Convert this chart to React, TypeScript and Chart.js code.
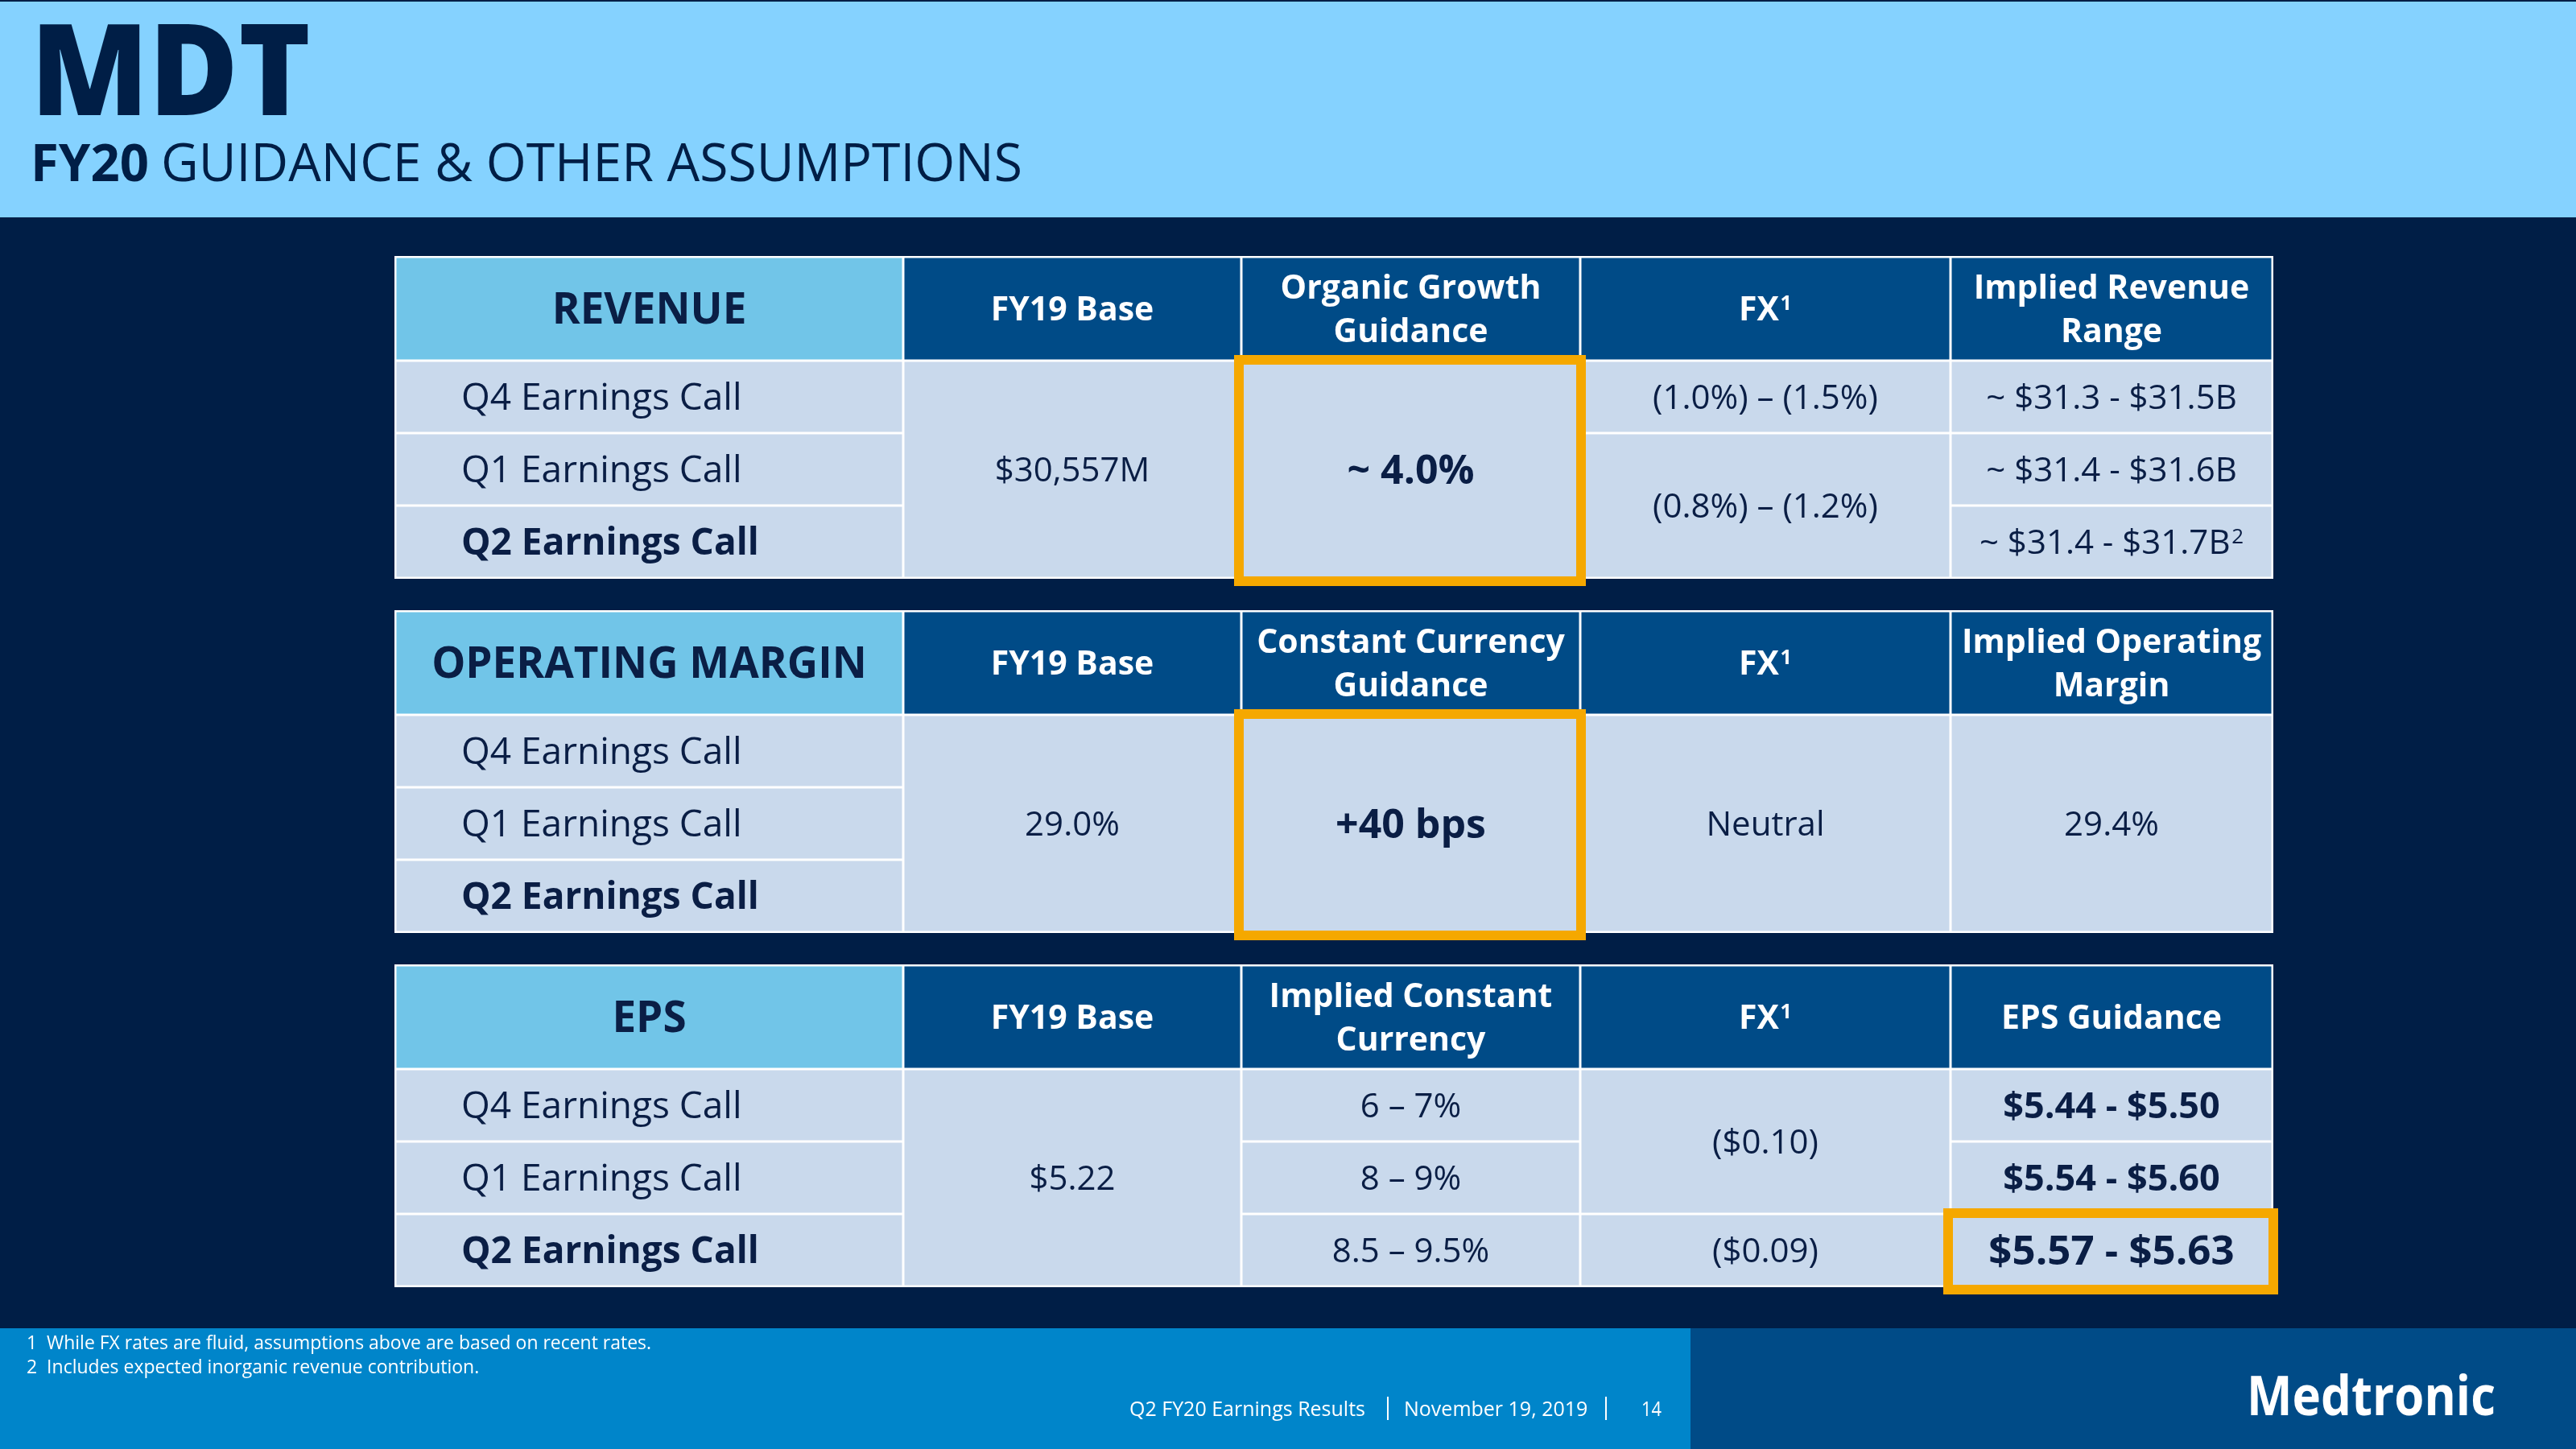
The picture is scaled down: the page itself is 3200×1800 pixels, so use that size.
import { useEffect, useRef } from "react";
import { Chart, registerables } from "chart.js";

Chart.register(...registerables);

// ---------- DATA ----------
const slideTitle = "MDT";
const subtitleBold = "FY20";
const subtitleRest = "GUIDANCE & OTHER ASSUMPTIONS";
const tableTitles = ["REVENUE", "OPERATING MARGIN", "EPS"];
const callLabels = ["Q4 Earnings Call", "Q1 Earnings Call", "Q2 Earnings Call"];
const revenueHeaders = ["FY19 Base", "Organic Growth|Guidance", "FX^1", "Implied Revenue|Range"];
const marginHeaders = ["FY19 Base", "Constant Currency|Guidance", "FX^1", "Implied Operating|Margin"];
const epsHeaders = ["FY19 Base", "Implied Constant|Currency", "FX^1", "EPS Guidance"];
const revenueBase = ["$30,557M"];
const revenueGrowth = ["~ 4.0%"];
const revenueFx = ["(1.0%) \u2013 (1.5%)", "(0.8%) \u2013 (1.2%)"];
const revenueRange = ["~ $31.3 - $31.5B", "~ $31.4 - $31.6B", "~ $31.4 - $31.7B^2"];
const marginBase = ["29.0%"];
const marginGuidance = ["+40 bps"];
const marginFx = ["Neutral"];
const marginImplied = ["29.4%"];
const epsBase = ["$5.22"];
const epsConstant = ["6 \u2013 7%", "8 \u2013 9%", "8.5 \u2013 9.5%"];
const epsFx = ["($0.10)", "($0.09)"];
const epsGuidance = ["$5.44 - $5.50", "$5.54 - $5.60", "$5.57 - $5.63"];
const footnotes = [
  "1  While FX rates are fluid, assumptions above are based on recent rates.",
  "2  Includes expected inorganic revenue contribution.",
];
const footerParts = ["Q2 FY20 Earnings Results", "November 19, 2019", "14"];
const brandName = "Medtronic";

// ---------- LAYOUT / STYLE ----------
const W = 3200;
const H = 1800;
const FONT = '"Open Sans", "Noto Sans", sans-serif';
const C = {
  band: "#85D2FF",
  navy: "#001E46",
  headLight: "#71C5E8",
  headDark: "#004B87",
  body: "#C9D9EC",
  text: "#0A1E45",
  orange: "#F5A800",
  footLeft: "#0085CA",
  footRight: "#004B87",
  white: "#FFFFFF",
};
const colEdges = [491, 1122, 1542, 1963, 2423, 2823];
const tableTops = [319, 759, 1199];
const headH = 129;
const rowH = 90;
const VAL = 42;

type Cell = {
  t: number;
  col: number;
  row: number; // -1 header
  span: number;
  text: string;
  bold?: boolean;
  size?: number;
  color?: string;
  fill?: string;
  align?: "left" | "center";
  box?: boolean;
};

function buildCells(): Cell[] {
  const cells: Cell[] = [];
  const headers = [revenueHeaders, marginHeaders, epsHeaders];
  tableTitles.forEach((title, t) => {
    cells.push({ t, col: 0, row: -1, span: 1, text: title, bold: true, size: 53, color: C.text, fill: C.headLight });
    headers[t].forEach((h, i) => {
      cells.push({ t, col: i + 1, row: -1, span: 1, text: h, bold: true, size: 41, color: C.white, fill: C.headDark });
    });
    callLabels.forEach((lab, r) => {
      cells.push({ t, col: 0, row: r, span: 1, text: lab, bold: r === 2, size: 46, align: "left" });
    });
  });
  // Revenue
  cells.push({ t: 0, col: 1, row: 0, span: 3, text: revenueBase[0] });
  cells.push({ t: 0, col: 2, row: 0, span: 3, text: revenueGrowth[0], bold: true, size: 50, box: true });
  cells.push({ t: 0, col: 3, row: 0, span: 1, text: revenueFx[0] });
  cells.push({ t: 0, col: 3, row: 1, span: 2, text: revenueFx[1] });
  revenueRange.forEach((v, r) => cells.push({ t: 0, col: 4, row: r, span: 1, text: v }));
  // Operating margin
  cells.push({ t: 1, col: 1, row: 0, span: 3, text: marginBase[0] });
  cells.push({ t: 1, col: 2, row: 0, span: 3, text: marginGuidance[0], bold: true, size: 50, box: true });
  cells.push({ t: 1, col: 3, row: 0, span: 3, text: marginFx[0] });
  cells.push({ t: 1, col: 4, row: 0, span: 3, text: marginImplied[0] });
  // EPS
  cells.push({ t: 2, col: 1, row: 0, span: 3, text: epsBase[0] });
  epsConstant.forEach((v, r) => cells.push({ t: 2, col: 2, row: r, span: 1, text: v }));
  cells.push({ t: 2, col: 3, row: 0, span: 2, text: epsFx[0] });
  cells.push({ t: 2, col: 3, row: 2, span: 1, text: epsFx[1] });
  epsGuidance.forEach((v, r) =>
    cells.push({ t: 2, col: 4, row: r, span: 1, text: v, bold: true, size: r === 2 ? 51 : 45, box: r === 2 })
  );
  return cells;
}

const CAP = 0.714;

function drawRich(
  ctx: CanvasRenderingContext2D,
  str: string,
  x: number,
  cy: number,
  size: number,
  bold: boolean,
  color: string,
  align: "left" | "center"
) {
  const [main, sup] = str.split("^");
  const weight = bold ? "700" : "400";
  ctx.font = `${weight} ${size}px ${FONT}`;
  const mw = ctx.measureText(main).width;
  let sw = 0;
  const supSize = Math.round(size * 0.62);
  if (sup) {
    ctx.font = `${weight} ${supSize}px ${FONT}`;
    sw = ctx.measureText(sup).width + size * 0.04;
  }
  const total = mw + sw;
  const sx = align === "center" ? x - total / 2 : x;
  const base = cy + (CAP * size) / 2;
  ctx.fillStyle = color;
  ctx.textAlign = "left";
  ctx.textBaseline = "alphabetic";
  ctx.font = `${weight} ${size}px ${FONT}`;
  ctx.fillText(main, sx, base);
  if (sup) {
    ctx.font = `${weight} ${supSize}px ${FONT}`;
    ctx.fillText(sup, sx + mw + size * 0.04, base - size * 0.32);
  }
}

const slidePlugin = {
  id: "slideTable",
  beforeDraw(chart: any) {
    const ctx: CanvasRenderingContext2D = chart.ctx;
    const xs = chart.scales.x;
    const ys = chart.scales.y;
    const X = (v: number) => xs.getPixelForValue(v);
    const Y = (v: number) => ys.getPixelForValue(v);
    const rect = (x0: number, y0: number, x1: number, y1: number, fill: string) => {
      ctx.fillStyle = fill;
      ctx.fillRect(X(x0), Y(y0), X(x1) - X(x0), Y(y1) - Y(y0));
    };
    ctx.save();
    // backgrounds
    rect(0, 0, W, H, C.navy);
    rect(0, 2, W, 270, C.band);
    rect(0, 1650, 2100, H, C.footLeft);
    rect(2100, 1650, W, H, C.footRight);

    // title
    ctx.fillStyle = C.navy;
    ctx.textBaseline = "alphabetic";
    ctx.textAlign = "left";
    ctx.font = `800 158px ${FONT}`;
    ctx.fillText(slideTitle, X(38), Y(143), X(348) - X(0));
    ctx.font = `700 64px ${FONT}`;
    ctx.fillText(subtitleBold, X(38), Y(225), X(147) - X(0));
    ctx.font = `400 66px ${FONT}`;
    ctx.fillText(subtitleRest, X(200), Y(225), X(1070) - X(0));

    const cells = buildCells();
    // table frames (white lines)
    tableTops.forEach((top) => {
      rect(colEdges[0] - 1, top - 1, colEdges[5] + 1, top + headH + 3 * rowH + 1, C.white);
    });
    const cellRect = (c: Cell) => {
      const top = tableTops[c.t];
      const x0 = colEdges[c.col];
      const x1 = colEdges[c.col + 1];
      const y0 = c.row < 0 ? top : top + headH + c.row * rowH;
      const y1 = c.row < 0 ? top + headH : top + headH + (c.row + c.span) * rowH;
      return { x0, x1, y0, y1 };
    };
    cells.forEach((c) => {
      const r = cellRect(c);
      rect(r.x0 + 1.5, r.y0 + 1.5, r.x1 - 1.5, r.y1 - 1.5, c.fill || C.body);
    });
    // highlight boxes
    cells
      .filter((c) => c.box)
      .forEach((c) => {
        const r = cellRect(c);
        ctx.strokeStyle = C.orange;
        ctx.lineWidth = 12;
        ctx.strokeRect(X(r.x0 - 3), Y(r.y0 - 1), X(r.x1 + 1) - X(r.x0 - 3), Y(r.y1 + 4) - Y(r.y0 - 1));
      });
    // cell texts
    cells.forEach((c) => {
      const r = cellRect(c);
      const size = c.size || VAL;
      const color = c.color || C.text;
      const align = c.align || "center";
      const cx = align === "left" ? X(r.x0 + 82) : X((r.x0 + r.x1) / 2);
      const cy = Y((r.y0 + r.y1) / 2);
      const lines = c.text.split("|");
      const lh = size * 1.3;
      lines.forEach((ln, i) => {
        const ly = cy + (i - (lines.length - 1) / 2) * lh;
        drawRich(ctx, ln, cx, ly, size, !!c.bold, color, align);
      });
    });

    // footer
    ctx.fillStyle = C.white;
    ctx.textAlign = "left";
    ctx.font = `400 23px ${FONT}`;
    footnotes.forEach((f, i) => {
      ctx.fillText(f, X(33), Y(1676 + i * 30), X(776) - X(0));
    });
    ctx.font = `400 25px ${FONT}`;
    const fy = Y(1759);
    ctx.fillText(footerParts[0], X(1403), fy, X(302) - X(0));
    ctx.fillText(footerParts[1], X(1744), fy, X(232) - X(0));
    ctx.fillText(footerParts[2], X(2039), fy, X(25) - X(0));
    ctx.strokeStyle = C.white;
    ctx.lineWidth = 2;
    [1724, 1995].forEach((sx) => {
      ctx.beginPath();
      ctx.moveTo(X(sx), Y(1735));
      ctx.lineTo(X(sx), Y(1764));
      ctx.stroke();
    });
    ctx.font = `700 68px ${FONT}`;
    ctx.fillText(brandName, X(2791), Y(1758), X(309) - X(0));
    ctx.restore();
  },
};

export default function App() {
  const ref = useRef<HTMLCanvasElement | null>(null);
  useEffect(() => {
    document.body.style.margin = "0";
    const canvas = ref.current;
    if (!canvas) return;
    const chart = new Chart(canvas, {
      type: "scatter",
      data: { datasets: [{ data: [], pointRadius: 0 }] },
      options: {
        animation: false,
        responsive: false,
        devicePixelRatio: 1,
        events: [],
        layout: { padding: 0 },
        plugins: { legend: { display: false }, tooltip: { enabled: false } },
        scales: {
          x: { type: "linear", min: 0, max: W, display: false },
          y: { type: "linear", min: 0, max: H, reverse: true, display: false },
        },
      },
      plugins: [slidePlugin],
    } as any);
    return () => chart.destroy();
  }, []);
  return <canvas ref={ref} width={W} height={H} style={{ display: "block", width: W, height: H }} />;
}
